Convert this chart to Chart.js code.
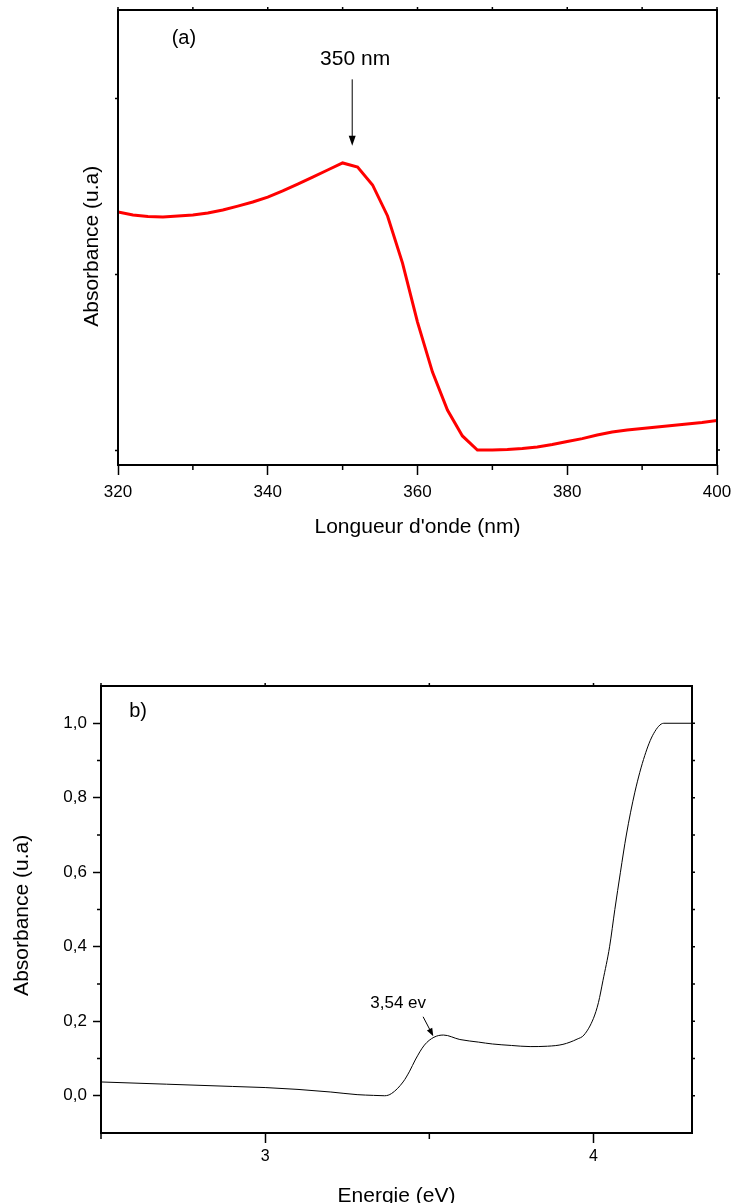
<!DOCTYPE html>
<html>
<head>
<meta charset="utf-8">
<script src="https://cdn.jsdelivr.net/npm/chart.js@4.4.1/dist/chart.umd.min.js"></script>
<style>
  html, body { margin: 0; padding: 0; background: #fff; overflow: hidden; }
  #wrapA { position: absolute; left: 0; top: 0; }
  #wrapB { position: absolute; left: 0; top: 640px; }
</style>
</head>
<body>
<div id="wrapA"><canvas id="chartA" width="734" height="560"></canvas></div>
<div id="wrapB"><canvas id="chartB" width="734" height="575"></canvas></div>
<script>
// (a) absorbance vs wavelength
const wavelength = [320, 322, 324, 326, 328, 330, 332, 334, 336, 338, 340, 342, 344, 346, 348, 350,
  352, 354, 356, 358, 360, 362, 364, 366, 368, 370, 372, 374, 376, 378, 380, 382, 384, 386, 388,
  390, 392, 394, 396, 398, 400];
const absorbA = [1.352, 1.335, 1.327, 1.324, 1.330, 1.335, 1.347, 1.364, 1.386, 1.409, 1.437, 1.472,
  1.511, 1.551, 1.591, 1.631, 1.608, 1.506, 1.330, 1.062, 0.727, 0.443, 0.227, 0.080, 0.000, 0.000,
  0.003, 0.009, 0.017, 0.031, 0.048, 0.065, 0.085, 0.102, 0.114, 0.122, 0.131, 0.139, 0.148, 0.156, 0.168];
const xTicksA = [320, 340, 360, 380, 400];
const xMinorA = [330, 350, 370, 390];
const yTicksA = [0, 1, 2];

// (b) absorbance vs energy
const energy = [2.5, 2.7, 2.9, 3.0, 3.1, 3.2, 3.28, 3.33, 3.364, 3.385, 3.42, 3.44, 3.457, 3.485, 3.514,
  3.543, 3.593, 3.65, 3.692, 3.75, 3.807, 3.86, 3.907, 3.95, 3.971, 4.0, 4.015, 4.029, 4.049, 4.065,
  4.082, 4.10, 4.126, 4.156, 4.183, 4.214, 4.3];
const absorbB = [0.037, 0.031, 0.025, 0.022, 0.017, 0.010, 0.003, 0.001, 0.0, 0.006, 0.037, 0.066, 0.096,
  0.136, 0.157, 0.163, 0.151, 0.144, 0.139, 0.135, 0.132, 0.133, 0.138, 0.152, 0.163, 0.208, 0.25,
  0.31, 0.40, 0.50, 0.60, 0.70, 0.815, 0.913, 0.972, 1.0, 1.0];
const xTicksB = [3, 4];
const xMinorB = [2.5, 3.5];
const yTicksB = [0, 0.2, 0.4, 0.6, 0.8, 1.0];
const yMinorB = [0.1, 0.3, 0.5, 0.7, 0.9];

const FONT = '"Liberation Sans", Arial, Helvetica, sans-serif';
Chart.defaults.font.family = FONT;
Chart.defaults.color = '#000';

// frame, minor ticks, mirrored ticks and the text/arrow annotations
const frameTicks = {
  id: 'frameTicks',
  afterDraw(chart, args, opts) {
    const { ctx, chartArea: a } = chart;
    const x = chart.scales.x, y = chart.scales.y;
    ctx.save();
    ctx.strokeStyle = '#000';
    ctx.lineWidth = 1.5;
    ctx.beginPath();
    opts.minorX.forEach(v => {
      const px = x.getPixelForValue(v);
      ctx.moveTo(px, a.bottom); ctx.lineTo(px, a.bottom + opts.minorLenX);
    });
    opts.minorY.forEach(v => {
      const py = y.getPixelForValue(v);
      ctx.moveTo(a.left, py); ctx.lineTo(a.left - opts.minorLenY, py);
    });
    opts.majorX.concat(opts.minorX).forEach(v => {
      const px = x.getPixelForValue(v);
      ctx.moveTo(px, a.top); ctx.lineTo(px, a.top - 3);
    });
    opts.majorY.concat(opts.minorY).forEach(v => {
      const py = y.getPixelForValue(v);
      ctx.moveTo(a.right, py); ctx.lineTo(a.right + 3, py);
    });
    ctx.stroke();

    ctx.lineWidth = 2;
    ctx.strokeRect(a.left, a.top, a.right - a.left, a.bottom - a.top);

    ctx.fillStyle = '#000';
    ctx.textAlign = 'center';
    ctx.textBaseline = 'middle';
    opts.labels.forEach(l => {
      ctx.font = l.size + 'px ' + FONT;
      ctx.fillText(l.text, x.getPixelForValue(l.x), y.getPixelForValue(l.y));
    });
    opts.arrows.forEach(ar => {
      const x0 = x.getPixelForValue(ar.from[0]), y0 = y.getPixelForValue(ar.from[1]);
      const x1 = x.getPixelForValue(ar.to[0]), y1 = y.getPixelForValue(ar.to[1]);
      const ang = Math.atan2(y1 - y0, x1 - x0);
      ctx.lineWidth = 1;
      ctx.beginPath();
      ctx.moveTo(x0, y0);
      ctx.lineTo(x1 - Math.cos(ang) * ar.head * 0.8, y1 - Math.sin(ang) * ar.head * 0.8);
      ctx.stroke();
      ctx.beginPath();
      ctx.moveTo(x1, y1);
      ctx.lineTo(x1 - Math.cos(ang) * ar.head + Math.sin(ang) * ar.half, y1 - Math.sin(ang) * ar.head - Math.cos(ang) * ar.half);
      ctx.lineTo(x1 - Math.cos(ang) * ar.head - Math.sin(ang) * ar.half, y1 - Math.sin(ang) * ar.head + Math.cos(ang) * ar.half);
      ctx.closePath();
      ctx.fill();
    });
    ctx.restore();
  }
};

function setTicks(list) {
  return scale => { scale.ticks = list.map(v => ({ value: v })); };
}
// fixed axis sizes so the plot areas line up with the original figure
function fixHeight(h) {
  return s => { s.height = h; s.paddingLeft = 0; s.paddingRight = 0; };
}
function fixWidth(w) {
  return s => { s.width = w; s.paddingTop = 0; s.paddingBottom = 0; };
}

new Chart(document.getElementById('chartA'), {
  type: 'line',
  data: {
    datasets: [{
      data: wavelength.map((w, i) => ({ x: w, y: absorbA[i] })),
      borderColor: '#ff0000',
      borderWidth: 3,
      pointRadius: 0,
      tension: 0
    }]
  },
  plugins: [frameTicks],
  options: {
    responsive: false,
    animation: false,
    layout: { padding: { top: 10, right: 17, left: 0, bottom: 0 } },
    plugins: {
      legend: { display: false },
      tooltip: { enabled: false },
      frameTicks: {
        minorX: xMinorA, minorY: [], majorX: xTicksA, majorY: yTicksA,
        minorLenX: 5, minorLenY: 0,
        labels: [
          { text: '(a)', x: 328.8, y: 2.341, size: 20 },
          { text: '350 nm', x: 351.67, y: 2.223, size: 21 }
        ],
        arrows: [{ from: [351.28, 2.106], to: [351.28, 1.729], head: 10, half: 3.5 }]
      }
    },
    scales: {
      x: {
        type: 'linear', min: 320, max: 400,
        afterBuildTicks: setTicks(xTicksA),
        afterFit: fixHeight(95),
        ticks: { font: { size: 17 }, padding: 7, maxRotation: 0 },
        grid: { drawOnChartArea: false, tickLength: 10, tickColor: '#000', tickWidth: 1.5 },
        border: { display: false },
        title: { display: true, text: "Longueur d'onde (nm)", font: { size: 21 }, padding: { bottom: 20 } }
      },
      y: {
        type: 'linear', min: -0.085, max: 2.5,
        afterBuildTicks: setTicks(yTicksA),
        afterFit: fixWidth(118),
        ticks: { callback: () => '' },
        grid: { drawOnChartArea: false, tickLength: 3, tickColor: '#000', tickWidth: 1.5 },
        border: { display: false },
        title: { display: true, text: 'Absorbance (u.a)   ', font: { size: 21 }, padding: { top: 80 } }
      }
    }
  }
});

new Chart(document.getElementById('chartB'), {
  type: 'line',
  data: {
    datasets: [{
      data: energy.map((e, i) => ({ x: e, y: absorbB[i] })),
      borderColor: '#000',
      borderWidth: 1,
      pointRadius: 0,
      cubicInterpolationMode: 'monotone'
    }]
  },
  plugins: [frameTicks],
  options: {
    responsive: false,
    animation: false,
    layout: { padding: { top: 46, right: 42, left: 0, bottom: 0 } },
    plugins: {
      legend: { display: false },
      tooltip: { enabled: false },
      frameTicks: {
        minorX: xMinorB, minorY: yMinorB, majorX: xTicksB, majorY: yTicksB,
        minorLenX: 6, minorLenY: 4,
        labels: [
          { text: 'b)', x: 2.613, y: 1.031, size: 20 },
          { text: '3,54 ev', x: 3.405, y: 0.249, size: 17 }
        ],
        arrows: [{ from: [3.481, 0.212], to: [3.512, 0.160], head: 8, half: 3 }]
      }
    },
    scales: {
      x: {
        type: 'linear', min: 2.5, max: 4.3,
        afterBuildTicks: setTicks(xTicksB),
        afterFit: fixHeight(82),
        ticks: { font: { size: 16 }, padding: 4, maxRotation: 0 },
        grid: { drawOnChartArea: false, tickLength: 10, tickColor: '#000', tickWidth: 1.5 },
        border: { display: false },
        title: { display: true, text: 'Energie (eV)', font: { size: 21 }, padding: { bottom: 6 } }
      },
      y: {
        type: 'linear', min: -0.1, max: 1.1,
        afterBuildTicks: setTicks(yTicksB),
        afterFit: fixWidth(101),
        ticks: { font: { size: 17 }, padding: 6, callback: v => v.toFixed(1).replace('.', ',') },
        grid: { drawOnChartArea: false, tickLength: 8, tickColor: '#000', tickWidth: 1.5 },
        border: { display: false },
        title: { display: true, text: 'Absorbance (u.a)  ', font: { size: 21 }, padding: { top: 10 } }
      }
    }
  }
});
</script>
</body>
</html>
